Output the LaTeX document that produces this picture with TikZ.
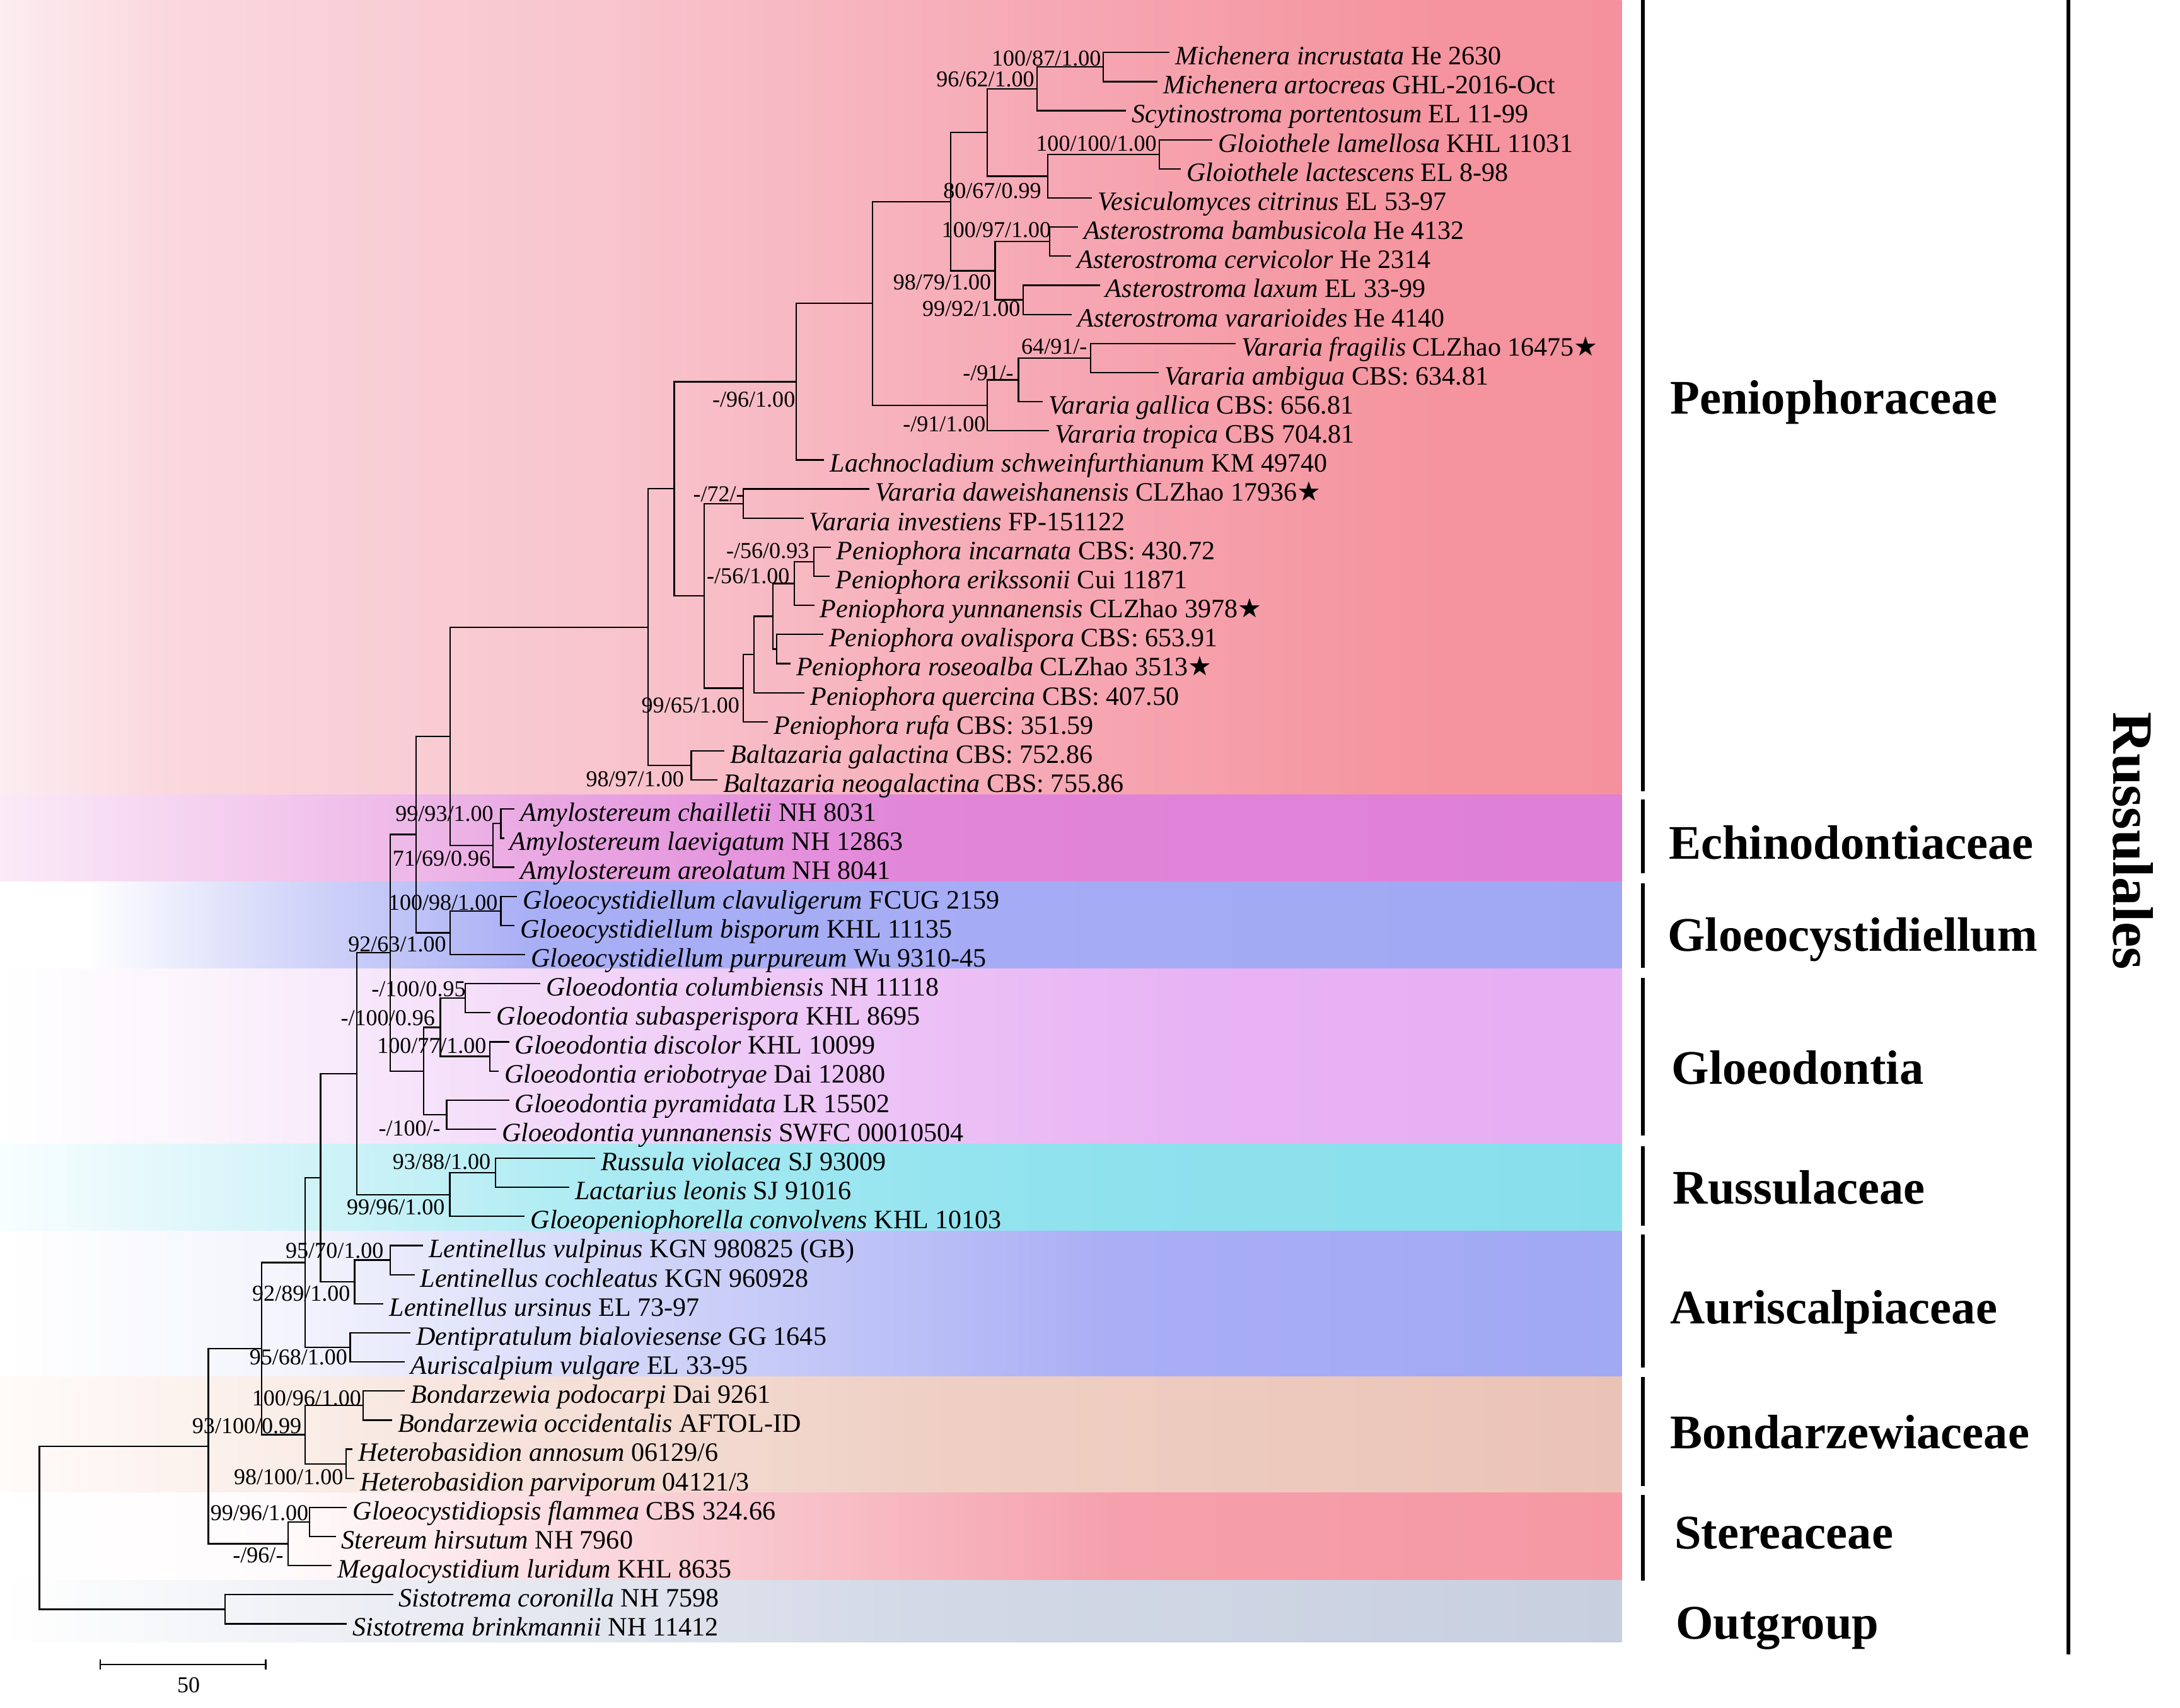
\documentclass[tikz,border=0pt]{standalone}
\usepackage{fontspec}
\setmainfont{Liberation Serif}
\newfontfamily\dejavu{DejaVu Sans}
\usetikzlibrary{calc}
\definecolor{pA0}{HTML}{FCEDF0}\definecolor{pA1}{HTML}{FAD8DE}\definecolor{pA2}{HTML}{F8C3CC}\definecolor{pA3}{HTML}{F6A8B4}\definecolor{pA4}{HTML}{F5959F}\definecolor{pA5}{HTML}{F4919D}
\definecolor{eA0}{HTML}{FBEAF8}\definecolor{eA1}{HTML}{F4D0EF}\definecolor{eA2}{HTML}{E9A6E2}\definecolor{eA3}{HTML}{E186D9}\definecolor{eA4}{HTML}{DF7FD6}
\definecolor{gA1}{HTML}{D5D8F9}\definecolor{gA2}{HTML}{A9AFF5}\definecolor{gA3}{HTML}{A0A8F4}
\definecolor{dA1}{HTML}{FBF3FC}\definecolor{dA2}{HTML}{EFCDF7}\definecolor{dA3}{HTML}{E8B3F4}\definecolor{dA4}{HTML}{E6AEF3}
\definecolor{rA0}{HTML}{F8FEFF}\definecolor{rA1}{HTML}{DDF6FA}\definecolor{rA2}{HTML}{A8EAF2}\definecolor{rA3}{HTML}{8FE2EE}\definecolor{rA4}{HTML}{88DFEC}
\definecolor{aA1}{HTML}{F4F5FD}\definecolor{aA2}{HTML}{CCD0F8}\definecolor{aA3}{HTML}{A9AEF5}\definecolor{aA4}{HTML}{A1A8F4}
\definecolor{bA0}{HTML}{FFFBF9}\definecolor{bA1}{HTML}{F9EAE4}\definecolor{bA2}{HTML}{EFD0C5}\definecolor{bA3}{HTML}{EBC3B6}
\definecolor{sA1}{HTML}{FFFBFC}\definecolor{sA2}{HTML}{F9CCD3}\definecolor{sA3}{HTML}{F5A0AC}\definecolor{sA4}{HTML}{F598A4}
\definecolor{oA1}{HTML}{EDEFF5}\definecolor{oA2}{HTML}{D3D9E6}\definecolor{oA3}{HTML}{C8CFDF}
\newcommand\bseg[6]{\shade[left color=#5,right color=#6] (#1,#3) rectangle (#2,#4);}
\newcommand\tip[3]{\coordinate (t#1) at (#2,{37.44+(#1-1)*20.74});
  \node[tax] (l#1) at ([xshift=4.5pt,yshift=-8.7pt]t#1) {#3};}
\newcommand\clade[4]{%
  \path let \p1=($(#3)!0.5!(#4)$), \p2=(#2,0) in coordinate (#1) at (\x2,\y1);%
  \draw[brl] (#3) -- (#1 |- #3) -- (#1 |- #4) -- (#4);}
\newcommand\strr{{\dejavu\fontsize{19}{19}\selectfont ★}}
\begin{document}
\begin{tikzpicture}[x=1pt,y=-1pt,
  tax/.style={anchor=base west,inner sep=0pt,font=\fontsize{18.9}{22}\selectfont},
  supp/.style={anchor=base east,inner sep=0pt,font=\fontsize{16.2}{19}\selectfont},
  fam/.style={anchor=base west,inner sep=0pt,font=\fontsize{34.4}{40}\selectfont\bfseries},
  brl/.style={line width=1pt,black,line cap=rect},
  fambar/.style={line width=2.6pt,black}]
\useasboundingbox (0,0) rectangle (1554,1217);
\fill[white] (0,0) rectangle (1554,1217);
% bands
\bseg{0}{120.5}{0}{566.3}{pA0}{pA1}\bseg{120}{450.5}{0}{566.3}{pA1}{pA2}\bseg{450}{750.5}{0}{566.3}{pA2}{pA3}\bseg{750}{1000.5}{0}{566.3}{pA3}{pA4}\bseg{1000}{1156}{0}{566.3}{pA4}{pA5}
\bseg{0}{150.5}{566.3}{628.5}{eA0}{eA1}\bseg{150}{400.5}{566.3}{628.5}{eA1}{eA2}\bseg{400}{650.5}{566.3}{628.5}{eA2}{eA3}\bseg{650}{1156}{566.3}{628.5}{eA3}{eA4}
\bseg{0}{60.5}{628.5}{690.7}{white}{white}\bseg{60}{200.5}{628.5}{690.7}{white}{gA1}\bseg{200}{380.5}{628.5}{690.7}{gA1}{gA2}\bseg{380}{1156}{628.5}{690.7}{gA2}{gA3}
\bseg{0}{150.5}{690.7}{815.2}{white}{dA1}\bseg{150}{500.5}{690.7}{815.2}{dA1}{dA2}\bseg{500}{850.5}{690.7}{815.2}{dA2}{dA3}\bseg{850}{1156}{690.7}{815.2}{dA3}{dA4}
\bseg{0}{150.5}{815.2}{877.4}{rA0}{rA1}\bseg{150}{450.5}{815.2}{877.4}{rA1}{rA2}\bseg{450}{750.5}{815.2}{877.4}{rA2}{rA3}\bseg{750}{1156}{815.2}{877.4}{rA3}{rA4}
\bseg{0}{200.5}{877.4}{981.1}{white}{aA1}\bseg{200}{500.5}{877.4}{981.1}{aA1}{aA2}\bseg{500}{800.5}{877.4}{981.1}{aA2}{aA3}\bseg{800}{1156}{877.4}{981.1}{aA3}{aA4}
\bseg{0}{250.5}{981.1}{1064.1}{bA0}{bA1}\bseg{250}{650.5}{981.1}{1064.1}{bA1}{bA2}\bseg{650}{1156}{981.1}{1064.1}{bA2}{bA3}
\bseg{0}{200.5}{1064.1}{1126.3}{white}{sA1}\bseg{200}{500.5}{1064.1}{1126.3}{sA1}{sA2}\bseg{500}{800.5}{1064.1}{1126.3}{sA2}{sA3}\bseg{800}{1156}{1064.1}{1126.3}{sA3}{sA4}
\bseg{0}{250.5}{1126.3}{1170.5}{white}{oA1}\bseg{250}{650.5}{1126.3}{1170.5}{oA1}{oA2}\bseg{650}{1156}{1126.3}{1170.5}{oA2}{oA3}
% tips
\tip{1}{833.1}{\textit{Michenera incrustata} He 2630}
\tip{2}{824.5}{\textit{Michenera artocreas} GHL-2016-Oct}
\tip{3}{802.2}{\textit{Scytinostroma portentosum} EL 11-99}
\tip{4}{863.7}{\textit{Gloiothele lamellosa} KHL 11031}
\tip{5}{841.3}{\textit{Gloiothele lactescens} EL 8-98}
\tip{6}{778.0}{\textit{Vesiculomyces citrinus} EL 53-97}
\tip{7}{767.9}{\textit{Asterostroma bambusicola} He 4132}
\tip{8}{763.0}{\textit{Asterostroma cervicolor} He 2314}
\tip{9}{783.5}{\textit{Asterostroma laxum} EL 33-99}
\tip{10}{763.5}{\textit{Asterostroma vararioides} He 4140}
\tip{11}{880.5}{\textit{Vararia fragilis} CLZhao 16475\strr}
\tip{12}{825.5}{\textit{Vararia ambigua} CBS: 634.81}
\tip{13}{742.9}{\textit{Vararia gallica} CBS: 656.81}
\tip{14}{747.5}{\textit{Vararia tropica} CBS 704.81}
\tip{15}{587.0}{\textit{Lachnocladium schweinfurthianum} KM 49740}
\tip{16}{619.1}{\textit{Vararia daweishanensis} CLZhao 17936\strr}
\tip{17}{572.3}{\textit{Vararia investiens} FP-151122}
\tip{18}{591.6}{\textit{Peniophora incarnata} CBS: 430.72}
\tip{19}{591.1}{\textit{Peniophora erikssonii} Cui 11871}
\tip{20}{579.9}{\textit{Peniophora yunnanensis} CLZhao 3978\strr}
\tip{21}{586.3}{\textit{Peniophora ovalispora} CBS: 653.91}
\tip{22}{563.0}{\textit{Peniophora roseoalba} CLZhao 3513\strr}
\tip{23}{573.0}{\textit{Peniophora quercina} CBS: 407.50}
\tip{24}{547.0}{\textit{Peniophora rufa} CBS: 351.59}
\tip{25}{516.0}{\textit{Baltazaria galactina} CBS: 752.86}
\tip{26}{510.8}{\textit{Baltazaria neogalactina} CBS: 755.86}
\tip{27}{366.3}{\textit{Amylostereum chailletii} NH 8031}
\tip{28}{358.8}{\textit{Amylostereum laevigatum} NH 12863}
\tip{29}{366.3}{\textit{Amylostereum areolatum} NH 8041}
\tip{30}{368.2}{\textit{Gloeocystidiellum clavuligerum} FCUG 2159}
\tip{31}{366.3}{\textit{Gloeocystidiellum bisporum} KHL 11135}
\tip{32}{373.7}{\textit{Gloeocystidiellum purpureum} Wu 9310-45}
\tip{33}{384.7}{\textit{Gloeodontia columbiensis} NH 11118}
\tip{34}{349.3}{\textit{Gloeodontia subasperispora} KHL 8695}
\tip{35}{362.4}{\textit{Gloeodontia discolor} KHL 10099}
\tip{36}{354.9}{\textit{Gloeodontia eriobotryae} Dai 12080}
\tip{37}{362.4}{\textit{Gloeodontia pyramidata} LR 15502}
\tip{38}{353.1}{\textit{Gloeodontia yunnanensis} SWFC 00010504}
\tip{39}{423.9}{\textit{Russula violacea} SJ 93009}
\tip{40}{405.2}{\textit{Lactarius leonis} SJ 91016}
\tip{41}{373.6}{\textit{Gloeopeniophorella convolvens} KHL 10103}
\tip{42}{301.0}{\textit{Lentinellus vulpinus} KGN 980825 (GB)}
\tip{43}{295.0}{\textit{Lentinellus cochleatus} KGN 960928}
\tip{44}{272.9}{\textit{Lentinellus ursinus} EL 73-97}
\tip{45}{292.1}{\textit{Dentipratulum bialoviesense} GG 1645}
\tip{46}{288.1}{\textit{Auriscalpium vulgare} EL 33-95}
\tip{47}{288.1}{\textit{Bondarzewia podocarpi} Dai 9261}
\tip{48}{278.9}{\textit{Bondarzewia occidentalis} AFTOL-ID}
\tip{49}{250.8}{\textit{Heterobasidion annosum} 06129/6}
\tip{50}{252.0}{\textit{Heterobasidion parviporum} 04121/3}
\tip{51}{246.8}{\textit{Gloeocystidiopsis flammea} CBS 324.66}
\tip{52}{238.8}{\textit{Stereum hirsutum} NH 7960}
\tip{53}{236.0}{\textit{Megalocystidium luridum} KHL 8635}
\tip{54}{279.7}{\textit{Sistotrema coronilla} NH 7598}
\tip{55}{246.8}{\textit{Sistotrema brinkmannii} NH 11412}
% clades
\clade{nA1}{786.5}{t1}{t2}
\clade{nA2}{739.2}{nA1}{t3}
\clade{nGl}{826.4}{t4}{t5}
\clade{nGV}{747.0}{nGl}{t6}
\clade{nAGV}{703.8}{nA2}{nGV}
\clade{nBC}{748.1}{t7}{t8}
\clade{nLV}{729.5}{t9}{t10}
\clade{nAst}{709.4}{nBC}{nLV}
\clade{nEig}{677.7}{nAGV}{nAst}
\clade{nVc}{777.3}{t11}{t12}
\clade{nVb}{726.0}{nVc}{t13}
\clade{nVa}{703.9}{nVb}{t14}
\clade{nVar}{622.0}{nEig}{nVa}
\clade{nNs}{567.7}{nVar}{t15}
\clade{nSv}{529.7}{t16}{t17}
\clade{nPa}{580.0}{t18}{t19}
\clade{nPb}{566.2}{nPa}{t20}
\clade{nOR}{553.8}{t21}{t22}
\clade{nPc}{551.0}{nPb}{nOR}
\clade{nPd}{537.3}{nPc}{t23}
\clade{nPe}{529.7}{nPd}{t24}
\clade{nPf}{502.1}{nSv}{nPe}
\clade{nPg}{480.6}{nNs}{nPf}
\clade{nBalt}{492.8}{t25}{t26}
\clade{nPen}{461.9}{nPg}{nBalt}
\clade{nAma}{357.0}{t27}{t28}
\clade{nAmb}{351.4}{nAma}{t29}
\clade{nPE}{320.8}{nPen}{nAmb}
\clade{nGca}{357.0}{t30}{t31}
\clade{nGcy}{320.8}{nGca}{t32}
\clade{nPEG}{296.6}{nPE}{nGcy}
\clade{nGda}{331.8}{t33}{t34}
\clade{nGdb}{349.3}{t35}{t36}
\clade{nGdc}{313.9}{nGda}{nGdb}
\clade{nGdd}{318.4}{t37}{t38}
\clade{nGdt}{302.0}{nGdc}{nGdd}
\clade{nQa}{278.0}{nPEG}{nGdt}
\clade{nRa}{353.1}{t39}{t40}
\clade{nRb}{320.6}{nRa}{t41}
\clade{nQb}{254.3}{nQa}{nRb}
\clade{nLa}{278.1}{t42}{t43}
\clade{nLb}{252.8}{nLa}{t44}
\clade{nQc}{228.5}{nQb}{nLb}
\clade{nDA}{249.6}{t45}{t46}
\clade{nQd}{217.5}{nQc}{nDA}
\clade{nBa}{258.8}{t47}{t48}
\clade{nHet}{246.8}{t49}{t50}
\clade{nBond}{217.5}{nBa}{nHet}
\clade{nQe}{186.6}{nQd}{nBond}
\clade{nSa}{220.7}{t51}{t52}
\clade{nSter}{205.5}{nSa}{t53}
\clade{nIn}{148.5}{nQe}{nSter}
\clade{nOut}{160.5}{t54}{t55}
\clade{nRoot}{28.1}{nIn}{nOut}
% support values
\node[supp] (s1) at (785.0,47.1) {100/87/1.00};
\node[supp] (s2) at (737.5,62.0) {96/62/1.00};
\node[supp] (s3) at (824.7,107.6) {100/100/1.00};
\node[supp] (s4) at (742.4,141.3) {80/67/0.99};
\node[supp] (s5) at (749.4,169.0) {100/97/1.00};
\node[supp] (s6) at (706.7,206.7) {98/79/1.00};
\node[supp] (s7) at (727.5,225.5) {99/92/1.00};
\node[supp] (s8) at (775.1,252.3) {64/91/-};
\node[supp] (s9) at (722.6,271.1) {-/91/-};
\node[supp] (s10) at (567.0,290.0) {-/96/1.00};
\node[supp] (s11) at (702.8,307.8) {-/91/1.00};
\node[supp] (s12) at (530.3,357.4) {-/72/-};
\node[supp] (s13) at (576.9,398.0) {-/56/0.93};
\node[supp] (s14) at (563.0,415.9) {-/56/1.00};
\node[supp] (s15) at (527.3,508.0) {99/65/1.00};
\node[supp] (s16) at (487.7,560.6) {98/97/1.00};
\node[supp] (s17) at (351.9,585.4) {99/93/1.00};
\node[supp] (s18) at (349.9,617.1) {71/69/0.96};
\node[supp] (s19) at (354.9,648.8) {100/98/1.00};
\node[supp] (s20) at (318.2,678.5) {92/63/1.00};
\node[supp] (s21) at (332.1,710.2) {-/100/0.95};
\node[supp] (s22) at (310.2,731.1) {-/100/0.96};
\node[supp] (s23) at (346.9,750.9) {100/77/1.00};
\node[supp] (s24) at (314.2,809.4) {-/100/-};
\node[supp] (s25) at (349.9,833.2) {93/88/1.00};
\node[supp] (s26) at (317.2,865.9) {99/96/1.00};
\node[supp] (s27) at (273.6,896.6) {95/70/1.00};
\node[supp] (s28) at (249.8,927.3) {92/89/1.00};
\node[supp] (s29) at (247.8,972.9) {95/68/1.00};
\node[supp] (s30) at (257.7,1001.7) {100/96/1.00};
\node[supp] (s31) at (215.1,1021.5) {93/100/0.99};
\node[supp] (s32) at (244.8,1058.2) {98/100/1.00};
\node[supp] (s33) at (220.0,1083.9) {99/96/1.00};
\node[supp] (s34) at (202.2,1113.7) {-/96/-};
% family brackets
\draw[fambar] (1171.2,0) -- (1171.2,563.8);
\draw[fambar] (1171.2,569.8) -- (1171.2,622.5);
\draw[fambar] (1171.2,629.4) -- (1171.2,689.9);
\draw[fambar] (1171.2,697.2) -- (1171.2,809.3);
\draw[fambar] (1171.2,817.0) -- (1171.2,873.4);
\draw[fambar] (1171.2,879.9) -- (1171.2,974.7);
\draw[fambar] (1171.2,981.5) -- (1171.2,1059.4);
\draw[fambar] (1171.2,1065.4) -- (1171.2,1126.8);
\draw[fambar] (1474.4,0) -- (1474.4,1179.2);
\node[fam] (f1) at (1190.4,295.1) {Peniophoraceae};
\node[fam] (f2) at (1189.4,612.3) {Echinodontiaceae};
\node[fam] (f3) at (1188.5,677.7) {Gloeocystidiellum};
\node[fam] (f4) at (1191.4,772.8) {Gloeodontia};
\node[fam] (f5) at (1192.4,858.1) {Russulaceae};
\node[fam] (f6) at (1190.4,943.3) {Auriscalpiaceae};
\node[fam] (f7) at (1190.4,1032.6) {Bondarzewiaceae};
\node[fam] (f8) at (1193.4,1103.9) {Stereaceae};
\node[fam] (f9) at (1194.4,1168.4) {Outgroup};
\node[rotate=-90,anchor=base,inner sep=0pt,font=\fontsize{40.8}{48}\selectfont\bfseries] (ord) at (1506.4,599.4) {Russulales};
% scale bar
\coordinate (sbL) at (71.4,1186.4);
\coordinate (sbR) at (189.4,1186.4);
\draw[line width=1pt] (sbL) -- (sbR);
\draw[line width=1pt] ([yshift=3.7pt]sbL) -- ([yshift=-3.8pt]sbL);
\draw[line width=1pt] ([yshift=3.7pt]sbR) -- ([yshift=-3.8pt]sbR);
\node[anchor=base,inner sep=0pt,font=\fontsize{16.2}{19}\selectfont] (sbT) at (134.4,1206.5) {50};
\end{tikzpicture}
\end{document}
